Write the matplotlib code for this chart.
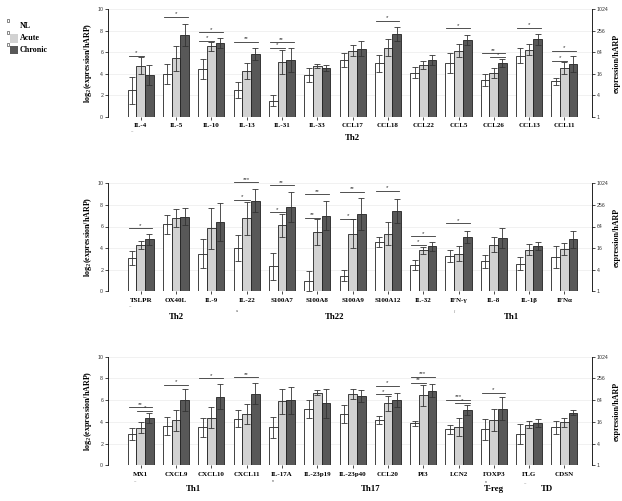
import matplotlib
matplotlib.use("Agg")
import matplotlib.pyplot as plt
import numpy as np

W, H = 622, 501

# ---------------- data ----------------
names1 = ["IL-4", "IL-5", "IL-10", "IL-13", "IL-31", "IL-33", "CCL17", "CCL18", "CCL22", "CCL5", "CCL26", "CCL13", "CCL11"]
nl1 = [2.5, 4.0, 4.45, 2.5, 1.5, 3.9, 5.3, 5.0, 4.1, 5.0, 3.4, 5.7, 3.3]
nl1_err = [1.25, 0.95, 0.9, 0.75, 0.5, 0.65, 0.65, 0.8, 0.5, 0.95, 0.55, 0.7, 0.3]
ac1 = [4.75, 5.45, 6.55, 4.25, 5.1, 4.75, 6.15, 6.45, 4.85, 6.15, 4.1, 6.25, 4.55]
ac1_err = [0.8, 1.15, 0.45, 0.75, 1.15, 0.17, 0.5, 0.75, 0.35, 0.6, 0.45, 0.5, 0.6]
ch1 = [3.9, 7.6, 6.85, 5.85, 5.3, 4.55, 6.35, 7.7, 5.3, 7.15, 5.0, 7.2, 4.9]
ch1_err = [0.9, 1.05, 0.45, 0.6, 1.1, 0.25, 0.7, 0.65, 0.5, 0.45, 0.35, 0.5, 0.75]
sig1 = [(0, 0, 1, 5.7, "*"), (1, 0, 2, 9.3, "*"), (2, 0, 1, 7.1, "*"), (2, 0, 2, 7.85, "*"),
        (3, 0, 2, 7.0, "**"), (4, 0, 1, 6.45, "*"), (4, 0, 2, 6.95, "**"), (7, 0, 2, 8.95, "*"),
        (9, 0, 2, 8.25, "*"), (10, 0, 2, 5.9, "**"), (10, 1, 2, 5.55, "*"), (11, 0, 2, 8.3, "*"),
        (12, 0, 1, 5.2, "*"), (12, 0, 2, 6.15, "*")]
groups1 = [(6.0, "Th2")]

names2 = ["TSLPR", "OX40L", "IL-9", "IL-22", "S100A7", "S100A8", "S100A9", "S100A12", "IL-32", "IFN-γ", "IL-8", "IL-1β", "IFNα"]
nl2 = [3.05, 6.2, 3.5, 4.0, 2.3, 0.95, 1.45, 4.55, 2.45, 3.25, 2.8, 2.55, 3.2]
nl2_err = [0.65, 0.9, 1.3, 1.2, 1.25, 0.95, 0.5, 0.45, 0.45, 0.55, 0.6, 0.6, 1.0]
ac2 = [4.3, 6.8, 5.85, 6.75, 6.1, 5.5, 5.35, 5.35, 3.8, 3.5, 4.3, 3.85, 3.9]
ac2_err = [0.4, 0.8, 1.9, 1.5, 1.1, 1.2, 1.3, 1.1, 0.3, 0.65, 0.7, 0.5, 0.55]
ch2 = [4.8, 6.9, 6.45, 8.4, 7.8, 7.0, 7.15, 7.45, 4.15, 5.05, 4.95, 4.2, 4.8]
ch2_err = [0.55, 0.8, 1.75, 1.1, 1.4, 1.35, 1.45, 1.1, 0.45, 0.55, 0.95, 0.4, 0.8]
sig2 = [(0, 0, 2, 5.85, "*"), (3, 0, 1, 8.5, "*"), (3, 0, 2, 10.1, "***"), (4, 0, 1, 7.3, "*"),
        (4, 0, 2, 9.8, "**"), (5, 0, 1, 6.8, "**"), (5, 0, 2, 9.0, "**"), (6, 0, 1, 6.7, "*"),
        (6, 0, 2, 9.2, "**"), (7, 0, 2, 9.3, "*"), (8, 0, 1, 4.3, "*"), (8, 0, 2, 5.1, "*"),
        (9, 0, 2, 6.3, "*")]
groups2 = [(1.0, "Th2"), (5.5, "Th22"), (10.5, "Th1")]

names3 = ["MX1", "CXCL9", "CXCL10", "CXCL11", "IL-17A", "IL-23p19", "IL-23p40", "CCL20", "PI3", "LCN2", "FOXP3", "FLG", "CDSN"]
nl3 = [2.85, 3.6, 3.5, 4.3, 3.5, 5.2, 4.7, 4.15, 3.85, 3.3, 3.3, 2.9, 3.5]
nl3_err = [0.55, 0.85, 0.85, 0.8, 0.95, 0.85, 0.85, 0.35, 0.25, 0.4, 1.0, 0.9, 0.6]
ac3 = [3.45, 4.15, 4.4, 4.7, 5.9, 6.7, 6.6, 5.7, 6.45, 3.55, 4.15, 3.75, 3.95]
ac3_err = [0.5, 0.95, 0.95, 0.9, 1.15, 0.25, 0.45, 0.7, 0.95, 0.85, 1.0, 0.3, 0.45]
ch3 = [4.35, 6.0, 6.3, 6.6, 6.0, 5.7, 6.4, 6.0, 6.85, 5.1, 5.2, 3.9, 4.85]
ch3_err = [0.5, 1.0, 1.15, 1.0, 1.25, 1.3, 0.55, 0.65, 0.6, 0.45, 1.05, 0.4, 0.25]
sig3 = [(0, 0, 2, 5.35, "**"), (0, 1, 2, 5.0, "*"), (1, 0, 2, 7.4, "*"), (2, 0, 2, 8.0, "*"),
        (3, 0, 2, 8.1, "**"), (7, 0, 1, 6.55, "*"), (7, 0, 2, 7.3, "*"), (8, 0, 1, 7.6, "**"),
        (8, 0, 2, 8.15, "***"), (9, 0, 2, 6.05, "***"), (9, 1, 2, 5.7, "*"), (10, 0, 2, 6.7, "*")]
groups3 = [(1.5, "Th1"), (6.5, "Th17"), (10.0, "T-reg"), (11.5, "TD")]

right_ticks = ["1", "4", "16", "64", "256", "1024"]
series_labels = ["NL", "Acute", "Chronic"]

# ---------------- style ----------------
SERIF = ["Liberation Serif", "DejaVu Serif"]
SANS = ["Liberation Sans", "DejaVu Sans"]
colors = ["white", "#d2d2d2", "#585858"]
BW = 0.246

fig = plt.figure(figsize=(W / 100, H / 100), dpi=100)

panels = [
    (9.3, 117.0, names1, [nl1, ac1, ch1], [nl1_err, ac1_err, ch1_err], sig1, groups1, 138),
    (183.3, 291.3, names2, [nl2, ac2, ch2], [nl2_err, ac2_err, ch2_err], sig2, groups2, 317),
    (356.7, 465.3, names3, [nl3, ac3, ch3], [nl3_err, ac3_err, ch3_err], sig3, groups3, 489),
]

xl, xr = 108, 592
c0, dc = 140.8, 35.3
xmin = (xl - c0) / dc
xmax = (xr - c0) / dc

for top, bot, names, vals, errs, sigs, groups, gy in panels:
    ax = fig.add_axes([xl / W, 1 - bot / H, (xr - xl) / W, (bot - top) / H])
    ax.set_xlim(xmin, xmax)
    ax.set_ylim(0, 10)
    x = np.arange(len(names))
    for yy in [2, 4, 6, 8, 10]:
        ax.axhline(yy, color="#ececec", lw=0.5, zorder=0)
    for k in range(3):
        ax.bar(x + (k - 1) * BW, vals[k], width=BW, color=colors[k], edgecolor="#222222",
               linewidth=0.6, zorder=2)
        ax.errorbar(x + (k - 1) * BW, vals[k], yerr=errs[k], fmt="none", ecolor="#333333",
                    elinewidth=0.6, capsize=2.0, capthick=0.6, zorder=3)
    ax.hlines(0, -0.39, 12.64, color="#222222", lw=0.7, zorder=4)
    for g, a, b, yv, lab in sigs:
        xa = g + (a - 1) * BW - 0.1
        xb = g + (b - 1) * BW + 0.08
        ax.plot([xa, xb], [yv, yv], color="#333333", lw=0.6, clip_on=False, zorder=5)
        ax.text((xa + xb) / 2, yv + 0.05, lab, ha="center", va="bottom", fontsize=4.5,
                family=SANS, color="#333333", clip_on=False)
    for s in ["top", "bottom"]:
        ax.spines[s].set_visible(False)
    ax.spines["right"].set_visible(False)
    ax.spines["left"].set_linewidth(0.6)
    ax.set_yticks([0, 2, 4, 6, 8, 10])
    ax.set_yticklabels(["0", "2", "4", "6", "8", "10"], fontsize=3.8, family=SANS, color="#333333")
    ax.tick_params(axis="y", length=2, width=0.5, pad=1.5)
    ax.set_xticks(x)
    ax.set_xticklabels(names, fontsize=5, family=SERIF, fontweight="bold")
    ax.tick_params(axis="x", length=2, width=0.5, pad=2.5)
    ax.set_ylabel(r"log$_2$(expression/hARP)", fontsize=5.8, family=SERIF, fontweight="bold",
                  labelpad=2)

    ax2 = ax.twinx()
    ax2.set_ylim(0, 10)
    ax2.set_xlim(xmin, xmax)
    for s in ["top", "bottom", "left"]:
        ax2.spines[s].set_visible(False)
    ax2.spines["right"].set_linewidth(0.6)
    ax2.set_yticks([0, 2, 4, 6, 8, 10])
    ax2.set_yticklabels(right_ticks, fontsize=3.8, family=SANS, color="#333333")
    ax2.tick_params(axis="y", length=2, width=0.5, pad=1.5)
    ax2.set_ylabel("expression/hARP", fontsize=5.8, family=SERIF, fontweight="bold", labelpad=3)

    for gx, glab in groups:
        fig.text((c0 + gx * dc) / W, 1 - gy / H, glab, ha="center", va="center",
                 fontsize=6.3, family=SERIF, fontweight="bold")

# small artefact marks under some labels
marks = [(132, 132, "~"), (130, 307, "~"), (237, 311, "u"), (455, 312, "/"),
         (135, 482, "~"), (273, 481, "n"), (486, 482, "n"), (525, 484, "~")]
for mx, my, mt in marks:
    fig.text(mx / W, 1 - my / H, mt, fontsize=3.0, ha="center", va="center",
             family=SANS, color="#555555")

# legend
leg_y = [26, 38.5, 50]
box_colors = [None, "#d2d2d2", "#585858"]
for i, lab in enumerate(series_labels):
    yy = leg_y[i]
    fig.patches.append(plt.Rectangle((6.5 / W, 1 - (yy - 4.5) / H), 2.5 / W, 2.5 / H,
                                     transform=fig.transFigure, facecolor="white",
                                     edgecolor="#555555", lw=0.5))
    if box_colors[i] is not None:
        fig.patches.append(plt.Rectangle((10 / W, 1 - (yy + 4) / H), 8 / W, 8.5 / H,
                                         transform=fig.transFigure, facecolor=box_colors[i],
                                         edgecolor="none"))
    fig.text(20 / W, 1 - yy / H, lab, fontsize=5.8, family=SERIF, fontweight="bold",
             ha="left", va="center")

fig.savefig("out.png", dpi=100)
